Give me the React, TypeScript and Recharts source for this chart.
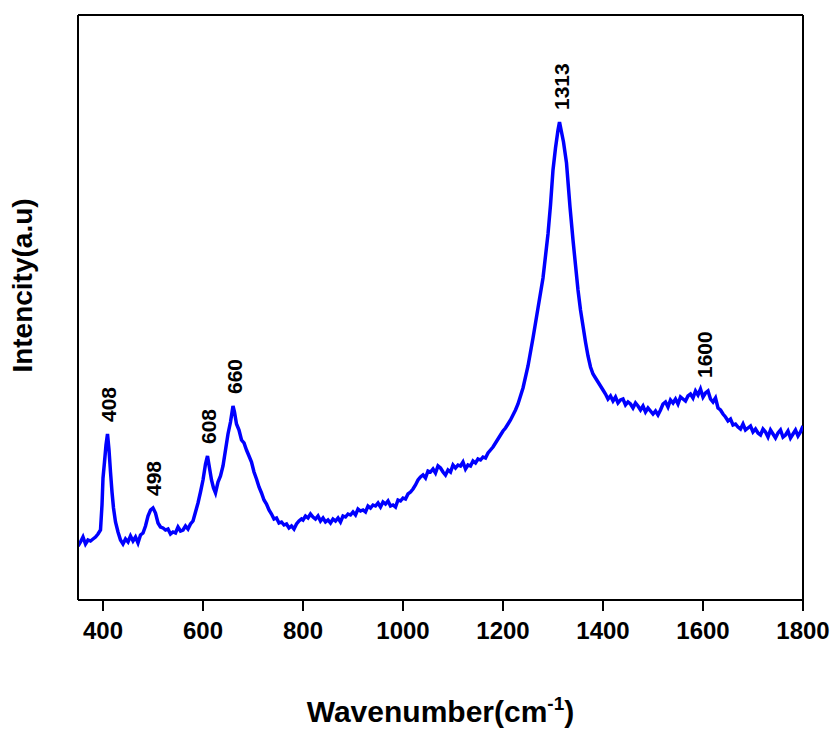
import React from 'react';
import { LineChart, Line, XAxis, YAxis, ReferenceLine, ReferenceDot } from 'recharts';

const wavenumbers: number[] = [
  350, 355, 360, 365, 370, 375, 380, 385, 390, 395, 398, 400, 403, 406, 409, 412, 415, 418, 421, 425,
  430, 435, 440, 445, 450, 455, 460, 465, 470, 475, 480, 485, 490, 495, 500, 505, 510, 515, 520, 525,
  530, 535, 540, 545, 550, 555, 560, 565, 570, 575, 580, 585, 590, 595, 600, 605, 609, 613, 617, 621,
  625, 630, 635, 640, 645, 650, 655, 660, 663, 667, 672, 677, 682, 687, 692, 697, 702, 707, 712, 717,
  722, 727, 732, 737, 742, 747, 752, 757, 762, 767, 772, 777, 782, 787, 792, 797,
  800, 805, 810, 815, 820, 825, 830, 835, 840, 845, 850, 855, 860, 865, 870, 875, 880, 885, 890, 895,
  900, 905, 910, 915, 920, 925, 930, 935, 940, 945, 950, 955, 960, 965, 970, 975, 980, 985, 990, 995,
  1000, 1005, 1010, 1015, 1020, 1025, 1030, 1035, 1040, 1045, 1050, 1055, 1060, 1065, 1070, 1075, 1080, 1085, 1090, 1095,
  1100, 1105, 1110, 1115, 1120, 1125, 1130, 1135, 1140, 1145, 1150, 1155, 1160, 1165, 1170, 1175, 1180, 1185, 1190, 1195,
  1200, 1205, 1210, 1215, 1220, 1225, 1230, 1240, 1250, 1260, 1270, 1280, 1290, 1295, 1300, 1305, 1310, 1313, 1317, 1321,
  1327, 1334, 1340, 1345, 1350, 1355, 1360, 1365, 1370, 1375, 1380, 1385, 1390, 1395,
  1400, 1405, 1410, 1415, 1420, 1425, 1430, 1435, 1440, 1445, 1450, 1455, 1460, 1465, 1470, 1475, 1480, 1485, 1490, 1495,
  1500, 1505, 1510, 1515, 1520, 1525, 1530, 1535, 1540, 1545, 1550, 1555, 1560, 1565, 1570, 1575, 1580, 1585, 1590, 1595,
  1600, 1605, 1610, 1615, 1620, 1625, 1630, 1635, 1640, 1645, 1650, 1655, 1660, 1665, 1670, 1675, 1680, 1685, 1690, 1695,
  1700, 1705, 1710, 1715, 1720, 1725, 1730, 1735, 1740, 1745, 1750, 1755, 1760, 1765, 1770, 1775, 1780, 1785, 1790, 1795,
  1800,
];

const intensity: number[] = [
  54, 58, 63, 56, 60, 59, 61, 63, 66, 70, 95, 122, 138, 155, 166, 150, 128, 108, 92, 78,
  68, 60, 56, 61, 58, 64, 59, 63, 57, 65, 67, 74, 84, 90, 92, 87, 77, 73, 72, 70,
  71, 66, 68, 67, 73, 69, 70, 74, 71, 76, 79, 88, 97, 108, 120, 136, 144, 132, 120, 112,
  107, 118, 124, 134, 150, 166, 178, 194, 188, 176, 170, 160, 157, 150, 144, 138, 128, 121, 113, 107,
  100, 96, 90, 86, 81, 82, 77, 78, 75, 76, 72, 74, 71, 76, 79, 81,
  80, 84, 82, 86, 83, 81, 84, 79, 82, 78, 80, 77, 81, 79, 82, 78, 84, 83, 86, 85,
  88, 85, 91, 89, 90, 88, 94, 92, 95, 94, 97, 93, 98, 96, 99, 94, 95, 93, 100, 99,
  102, 101, 106, 108, 111, 115, 120, 123, 125, 122, 129, 128, 131, 127, 134, 132, 128, 125, 130, 128,
  135, 132, 135, 134, 138, 131, 135, 134, 139, 137, 141, 140, 143, 142, 147, 150, 153, 157, 161, 165,
  169, 172, 176, 180, 185, 190, 196, 212, 234, 262, 292, 322, 366, 395, 430, 452, 470, 478, 468, 458,
  437, 393, 360, 335, 310, 290, 274, 258, 244, 233, 226, 222, 218, 214,
  210, 206, 201, 204, 199, 203, 197, 200, 201, 195, 198, 196, 192, 197, 194, 190, 194, 188, 192, 189,
  186, 189, 185, 190, 196, 198, 193, 200, 197, 201, 196, 203, 201, 199, 204, 206, 202, 209, 205, 211,
  203, 207, 209, 201, 198, 202, 192, 190, 186, 183, 179, 181, 175, 176, 173, 171, 176, 170, 172, 174,
  168, 171, 167, 165, 171, 168, 163, 170, 166, 162, 167, 170, 163, 165, 169, 162, 166, 170, 164, 168,
  174,
];

const xTicks: number[] = [400, 600, 800, 1000, 1200, 1400, 1600, 1800];

const peakWavenumbers: number[] = [408, 498, 608, 660, 1313, 1600];
const peakIntensities: number[] = [166, 92, 144, 194, 478, 210];
const peakTexts: string[] = ['408', '498', '608', '660', '1313', '1600'];

const data = wavenumbers.map((w, i) => ({ w, v: intensity[i] }));

const FONT = '"Liberation Sans", Arial, Helvetica, sans-serif';

const PeakLabel = (text: string) => (props: any) => {
  const { cx, cy } = props;
  if (cx == null || cy == null) return <g />;
  const bx = cx + 9;
  const by = cy - 12;
  return (
    <text
      x={bx}
      y={by}
      transform={`rotate(-90, ${bx}, ${by})`}
      textAnchor="start"
      fontFamily={FONT}
      fontWeight="bold"
      fontSize={21}
      fill="#000"
    >
      {text}
    </text>
  );
};

const XTitle = (props: any) => {
  const vb = props.viewBox || { x: 78, y: 600, width: 725, height: 129 };
  const cx = vb.x + vb.width / 2;
  const by = vb.y + 122;
  return (
    <text x={cx} y={by} textAnchor="middle" fontFamily={FONT} fontWeight="bold" fontSize={30} fill="#000">
      <tspan>Wavenumber(cm</tspan>
      <tspan fontSize={19} dy={-12}>-1</tspan>
      <tspan dy={12}>)</tspan>
    </text>
  );
};

const YTitle = (props: any) => {
  const vb = props.viewBox || { x: 0, y: 15, width: 78, height: 585 };
  const bx = vb.x + 32;
  const cy = vb.y + vb.height / 2 - 22;
  return (
    <text
      x={bx}
      y={cy}
      transform={`rotate(-90, ${bx}, ${cy})`}
      textAnchor="middle"
      fontFamily={FONT}
      fontWeight="bold"
      fontSize={28}
      fill="#000"
    >
      Intencity(a.u)
    </text>
  );
};

export default function App() {
  return (
    <div style={{ position: 'absolute', left: 0, top: 0, width: 830, height: 729, background: '#fff' }}>
      <LineChart
        width={830}
        height={729}
        data={data}
        margin={{ top: 15, right: 27, bottom: 0, left: 0 }}
      >
        <XAxis
          dataKey="w"
          type="number"
          domain={[350, 1800]}
          ticks={xTicks}
          allowDataOverflow
          height={129}
          axisLine={{ stroke: '#000', strokeWidth: 2 }}
          tickLine={{ stroke: '#000', strokeWidth: 2 }}
          tickSize={11}
          tickMargin={11}
          tick={{ fill: '#000', fontFamily: FONT, fontWeight: 'bold', fontSize: 24 }}
          interval={0}
          label={<XTitle />}
        />
        <YAxis
          type="number"
          domain={[0, 585]}
          allowDataOverflow
          width={78}
          tick={false}
          tickLine={false}
          axisLine={{ stroke: '#000', strokeWidth: 2 }}
          label={<YTitle />}
        />
        <ReferenceLine y={585} stroke="#000" strokeWidth={2} />
        <ReferenceLine x={1800} stroke="#000" strokeWidth={2} />
        <Line
          type="linear"
          dataKey="v"
          stroke="#0000FF"
          strokeWidth={3.5}
          dot={false}
          isAnimationActive={false}
        />
        {peakWavenumbers.map((w, i) => (
          <ReferenceDot
            key={peakTexts[i]}
            x={w}
            y={peakIntensities[i]}
            r={0}
            shape={PeakLabel(peakTexts[i])}
          />
        ))}
      </LineChart>
    </div>
  );
}
